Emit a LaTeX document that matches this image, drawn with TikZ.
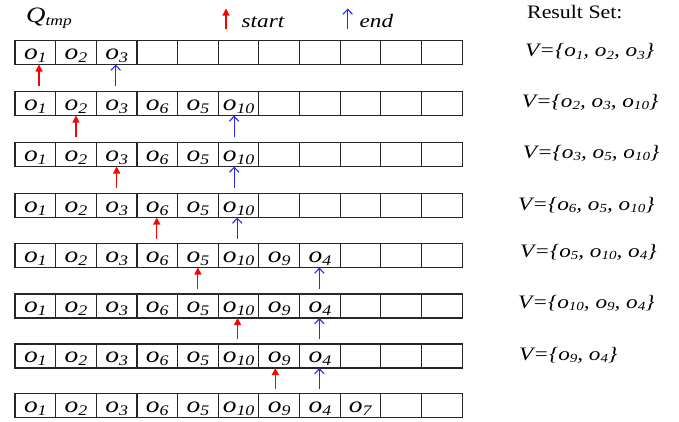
\documentclass[tikz,border=0pt]{standalone}
\usepackage{fontspec}
\usepackage{graphicx}
\usetikzlibrary{arrows.meta}
\newfontfamily\cellfont[FakeStretch=1.22]{Liberation Serif}
\newfontfamily\resfont[FakeStretch=1.15]{Liberation Serif}
\newcommand\lowsub[1]{\raisebox{-0.14em}{\scalebox{0.65}{#1}}}
\newcommand\ob[1]{\textit{o}\lowsub{\textit{#1}}}
\definecolor{arrred}{RGB}{255,0,0}
\definecolor{arrblue}{RGB}{40,40,255}
\tikzset{
  cell/.style={draw=black!85, line width=1.1pt, minimum width=40.65pt, minimum height=24pt, inner sep=0pt, outer sep=0pt},
  celltext/.style={anchor=base, inner sep=0pt, font=\cellfont\fontsize{22.5}{24}\selectfont},
  settext/.style={anchor=base west, inner sep=0pt, font=\cellfont\fontsize{19}{21}\selectfont\itshape},
  headtext/.style={anchor=base west, inner sep=0pt, font=\cellfont\fontsize{19}{21}\selectfont\itshape},
  startarr/.style={draw=arrred, line width=1.1pt, -{Triangle[length=7pt,width=7pt]}},
  endarr/.style={draw=arrblue, line width=1.1pt, -{Straight Barb[length=5pt,width=9.5pt]}},
}
\begin{document}
\begin{tikzpicture}[x=1pt,y=-1pt]
\useasboundingbox (0,0) rectangle (679,421);
% rows of cells
\foreach \r/\top in {1/40.5,2/91.5,3/142.5,4/193.5,5/243.5,6/294,7/344,8/393.5}{
  \foreach \c in {1,...,11}{
    \node[cell] (r\r c\c) at ({15+(\c-0.5)*40.65},{\top+12}) {};
  }
}
% cell contents
\foreach \t [count=\c] in {1,2,3}{\node[celltext] (t1-\c) at ([yshift=5.5pt]r1c\c.south) {\ob{\t}};}
\foreach \r in {2,3,4}{
  \foreach \t [count=\c] in {1,2,3,6,5,10}{\node[celltext] (t\r-\c) at ([yshift=5.5pt]r\r c\c.south) {\ob{\t}};}
}
\foreach \r in {5,6,7}{
  \foreach \t [count=\c] in {1,2,3,6,5,10,9,4}{\node[celltext] (t\r-\c) at ([yshift=5.5pt]r\r c\c.south) {\ob{\t}};}
}
\foreach \t [count=\c] in {1,2,3,6,5,10,9,4,7}{\node[celltext] (t8-\c) at ([yshift=5.5pt]r8c\c.south) {\ob{\t}};}
% start / end pointers
\foreach \r/\c/\dx in {1/1/3.7,2/2/0,3/3/0,4/4/-0.5,5/5/0,6/6/-1,7/7/-3.9}{
  \draw[startarr] ([xshift=\dx pt,yshift=-21pt]r\r c\c.south) -- ([xshift=\dx pt]r\r c\c.south);
}
\foreach \r/\c/\dx in {1/3/-0.9,2/6/-4.5,3/6/-4.3,4/6/-1.3,5/8/-0.5,6/8/-0.5,7/8/-0.5}{
  \draw[endarr] ([xshift=\dx pt,yshift=-21pt]r\r c\c.south) -- ([xshift=\dx pt]r\r c\c.south);
}
% header
\node[headtext, font=\cellfont\fontsize{22}{24}\selectfont\itshape] (qtmp) at (26,22) {Q\lowsub{tmp}};
\coordinate (sa1) at (226,28.5);
\coordinate (sa2) at (226,8.5);
\draw[startarr] (sa1) -- (sa2);
\node[headtext] (start) at (241.5,27.3) {start};
\coordinate (ea1) at (347.7,28.5);
\coordinate (ea2) at (347.7,8.5);
\draw[endarr] (ea1) -- (ea2);
\node[headtext] (end) at (359.5,27.3) {end};
\node[anchor=base west, inner sep=0pt, font=\resfont\fontsize{19}{21}\selectfont] (result) at (527,18.8) {Result Set:};
% result sets
\node[settext] (v1) at (525,56.7) {V=\{\ob{1}, \ob{2}, \ob{3}\}};
\node[settext] (v2) at (521.7,107.3) {V=\{\ob{2}, \ob{3}, \ob{10}\}};
\node[settext] (v3) at (522.7,158.3) {V=\{\ob{3}, \ob{5}, \ob{10}\}};
\node[settext] (v4) at (518,210) {V=\{\ob{6}, \ob{5}, \ob{10}\}};
\node[settext] (v5) at (520,257.3) {V=\{\ob{5}, \ob{10}, \ob{4}\}};
\node[settext] (v6) at (518,308) {V=\{\ob{10}, \ob{9}, \ob{4}\}};
\node[settext] (v7) at (519,360) {V=\{\ob{9}, \ob{4}\}};
\end{tikzpicture}
\end{document}
